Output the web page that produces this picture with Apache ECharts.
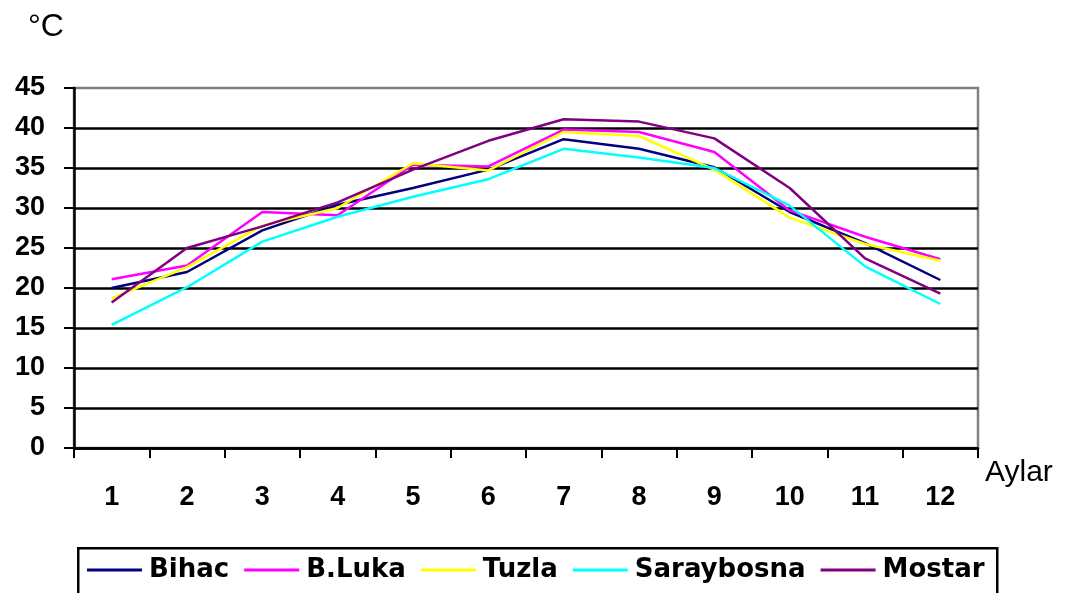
<!DOCTYPE html>
<html><head><meta charset="utf-8">
<script src="https://cdn.jsdelivr.net/npm/echarts@6/dist/echarts.min.js"></script>
<style>html,body{margin:0;padding:0;background:#fff}#c{width:1066px;height:593px}</style>
</head><body><div id="c"></div>
<script>
const months = ['1','2','3','4','5','6','7','8','9','10','11','12'];
const bihac      = [20.0, 22.0, 27.2, 30.4, 32.5, 34.8, 38.6, 37.4, 35.1, 29.5, 25.6, 21.0];
const bluka      = [21.1, 22.8, 29.5, 29.1, 35.4, 35.2, 39.8, 39.5, 37.0, 29.7, 26.4, 23.6];
const tuzla      = [18.7, 22.6, 27.8, 30.0, 35.6, 34.7, 39.5, 39.0, 34.8, 28.8, 25.5, 23.4];
const saraybosna = [15.4, 20.1, 25.8, 28.9, 31.4, 33.6, 37.4, 36.3, 35.0, 30.3, 22.7, 18.0];
const mostar     = [18.2, 25.0, 27.7, 30.7, 34.8, 38.4, 41.1, 40.8, 38.7, 32.5, 23.7, 19.3];
const seriesNames = ['Bihac','B.Luka','Tuzla','Saraybosna','Mostar'];
const seriesData = [bihac, bluka, tuzla, saraybosna, mostar];
const colors = ['#000080','#FF00FF','#FFFF00','#00FFFF','#800080'];

const chart = echarts.init(document.getElementById('c'), null, {renderer:'canvas'});
const font = 'Arial, "Liberation Sans", sans-serif';
const legendFont = '"DejaVu Sans", Arial, sans-serif';
chart.setOption({
  animation:false,
  color: colors,
  title:{ text:'°C', left:23, top:6, textStyle:{fontFamily:font, fontSize:32, fontWeight:'normal', color:'#000'} },
  grid:{ left:74, top:88, right:88, bottom:145, show:true, borderColor:'#808080', borderWidth:2.5, backgroundColor:'#fff' },
  graphic:[{
    type:'rect', left:77, top:547, z:0,
    shape:{x:0, y:0, width:919, height:60},
    style:{fill:'#fff', stroke:'#000', lineWidth:2.5}
  }],
  legend:{
    left:87, top:557, padding:0, itemGap:15, itemWidth:55, itemHeight:3, icon:'rect',
    textStyle:{fontFamily:legendFont, fontSize:26, fontWeight:'bold', color:'#000', padding:[0,0,0,2]},
    data: seriesNames
  },
  xAxis:{
    type:'category', data: months, boundaryGap:true,
    name:'Aylar', nameLocation:'end', nameGap:7,
    nameTextStyle:{fontFamily:font, fontSize:30, color:'#000', verticalAlign:'top', padding:[10,0,0,0]},
    axisLine:{lineStyle:{color:'#000', width:2.5}},
    axisTick:{show:true, interval:0, length:10, lineStyle:{color:'#000', width:2}},
    axisLabel:{interval:0, margin:36, fontFamily:font, fontSize:27, fontWeight:'bold', color:'#000'},
    splitLine:{show:false}
  },
  yAxis:{
    type:'value', min:0, max:45, interval:5,
    axisLine:{show:true, lineStyle:{color:'#000', width:2.5}},
    axisTick:{show:true, length:10, lineStyle:{color:'#000', width:2}},
    axisLabel:{margin:29, fontFamily:font, fontSize:27, fontWeight:'bold', color:'#000'},
    splitLine:{show:true, showMaxLine:false, lineStyle:{color:'#000', width:2.5}}
  },
  series: seriesNames.map((n,i)=>({
    name:n, type:'line', data: seriesData[i], symbol:'none', showSymbol:false,
    lineStyle:{width:2.5, color:colors[i]}, itemStyle:{color:colors[i]}
  }))
});
</script></body></html>
